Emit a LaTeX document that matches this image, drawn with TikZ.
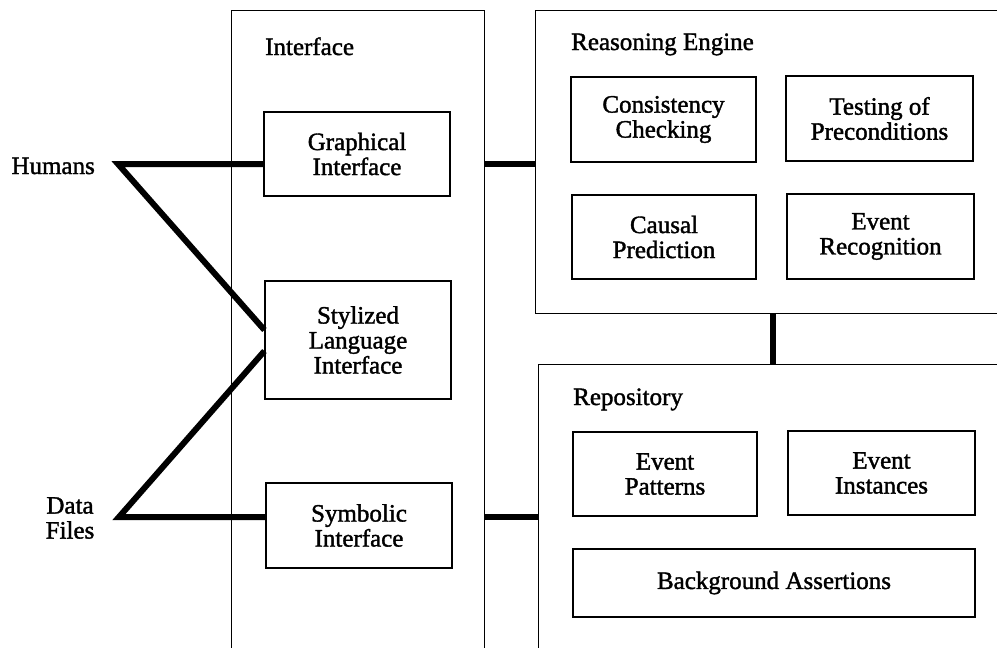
\documentclass[tikz,border=0pt]{standalone}
\usepackage{fontspec}
\setmainfont{Liberation Serif}[BoldFont=Liberation Serif, BoldFeatures={FakeBold=1.5}]
\usetikzlibrary{fit,calc}
\begin{document}
\begin{tikzpicture}[x=1pt,y=-1pt,
  bigbox/.style={draw, line width=1pt, inner sep=0pt},
  sbox/.style={draw, line width=1.1pt, align=center, inner sep=0pt, font=\fontsize{25}{25}\selectfont\bfseries},
  lbl/.style={font=\fontsize{25}{25}\selectfont\bfseries, inner sep=0pt},
  conn/.style={line width=6pt, line join=miter}]
\useasboundingbox (0,0) rectangle (997,648);
\clip (0,0) rectangle (997,648);
% big boxes
\node[bigbox, fit={(231,10) (484,700)}] (ifc) {};
\node[bigbox, fit={(535,10) (1020,313)}] (re) {};
\node[bigbox, fit={(538,364) (1020,700)}] (repo) {};
% headers
\node[lbl, anchor=base west] (ifclbl) at (265,55) {Interface};
\node[lbl, anchor=base west] (relbl) at (571,50) {Reasoning Engine};
\node[lbl, anchor=base west] (repolbl) at (573,405) {Repository};
% interface boxes
\node[sbox, minimum width=186pt, minimum height=84pt] (gi) at (357,154) {Graphical\\Interface};
\node[sbox, minimum width=186pt, minimum height=118pt] (sl) at (358,340) {Stylized\\Language\\Interface};
\node[sbox, minimum width=186pt, minimum height=85pt] (sym) at (359,525.5) {Symbolic\\Interface};
% reasoning boxes
\node[sbox, minimum width=185pt, minimum height=85pt] (cc) at (663.5,119.5) {Consistency\\Checking};
\node[sbox, minimum width=187pt, minimum height=85pt] (tp) at (879.5,118.5) {Testing of\\Preconditions};
\node[sbox, minimum width=184pt, minimum height=84pt] (cp) at (664,237) {Causal\\Prediction};
\node[sbox, minimum width=187pt, minimum height=85pt] (er) at (880.5,236.5) {Event\\Recognition};
% repository boxes
\node[sbox, minimum width=184pt, minimum height=84pt] (ep) at (665,474) {Event\\Patterns};
\node[sbox, minimum width=187pt, minimum height=84pt] (ei) at (881.5,473) {Event\\Instances};
\node[sbox, minimum width=402pt, minimum height=68pt] (ba) at (774,583) {Background Assertions};
% external sources
\node[lbl, anchor=base east] (humans) at (95,174) {Humans};
\node[lbl, align=center, anchor=north] (data) at (70,497) {Data\\Files};
\coordinate (hum) at (118,164);
\coordinate (df) at (119,517);
\coordinate (vc) at (773,0);
% connectors
\draw[conn] (gi.west |- hum) -- (hum) -- ([yshift=10pt]sl.west);
\draw[conn] (sym.west |- df) -- (df) -- ([yshift=-11pt]sl.west);
\draw[conn] (ifc.east |- hum) -- (re.west |- hum);
\draw[conn] (ifc.east |- df) -- (repo.west |- df);
\draw[conn] (re.south -| vc) -- (repo.north -| vc);
\end{tikzpicture}
\end{document}
